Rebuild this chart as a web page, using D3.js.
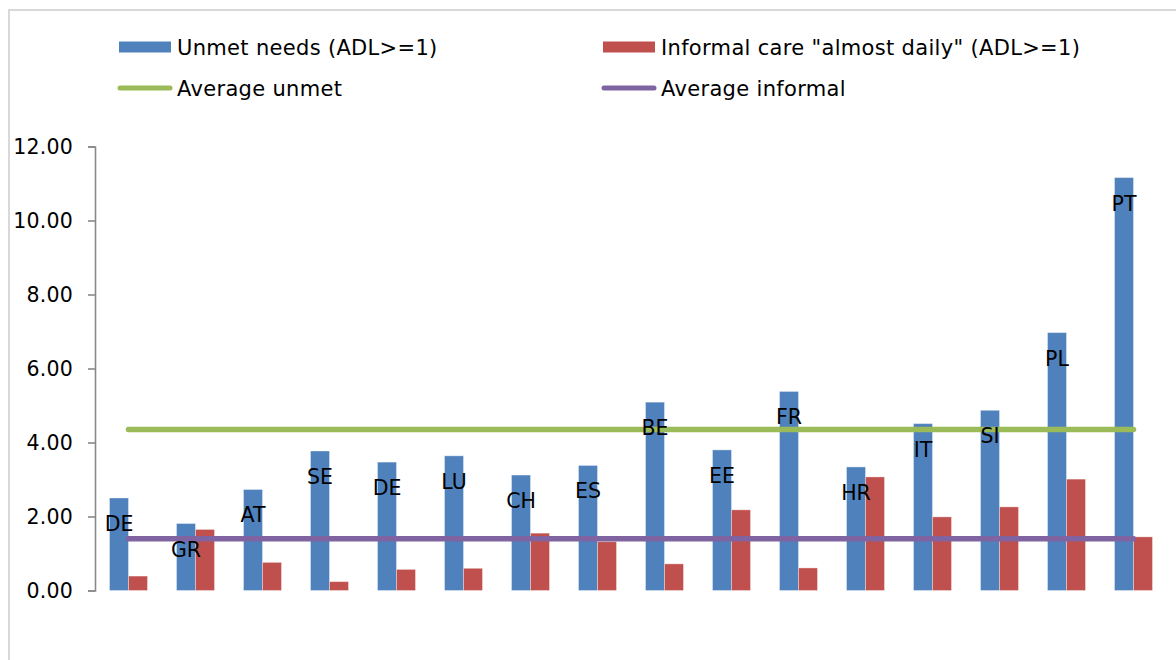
<!DOCTYPE html>
<html>
<head>
<meta charset="utf-8">
<script src="https://cdn.jsdelivr.net/npm/d3@7/dist/d3.min.js"></script>
<style>
  html, body { margin: 0; padding: 0; background: #fff; }
  svg { display: block; font-family: "DejaVu Sans", Verdana, sans-serif; }
</style>
</head>
<body>
<svg id="chart" width="1176" height="660"></svg>
<script>
// Countries (DE appears twice in the source series)
const countries = ["DE", "GR", "AT", "SE", "DE", "LU", "CH", "ES", "BE", "EE", "FR", "HR", "IT", "SI", "PL", "PT"];
// Unmet needs (ADL>=1)
const unmet = [2.50, 1.81, 2.73, 3.77, 3.47, 3.64, 3.12, 3.38, 5.09, 3.80, 5.38, 3.34, 4.51, 4.87, 6.97, 11.16];
// Informal care "almost daily" (ADL>=1)
const informal = [0.39, 1.65, 0.76, 0.24, 0.57, 0.60, 1.55, 1.32, 0.72, 2.18, 0.61, 3.07, 1.99, 2.26, 3.01, 1.45];
// Reference averages
const avgUnmet = 4.35;
const avgInformal = 1.40;
const yTicks = [0, 2, 4, 6, 8, 10, 12];

const seriesNames = ["Unmet needs (ADL>=1)", "Informal care \"almost daily\" (ADL>=1)"];
const lineNames = ["Average unmet", "Average informal"];
const colors = { unmet: "#4f81bd", informal: "#c0504d", avgUnmet: "#9bbb59", avgInformal: "#8064a2" };

const svg = d3.select("#chart");

// outer chart frame
svg.append("rect")
  .attr("x", 9).attr("y", 10)
  .attr("width", 1300).attr("height", 800)
  .attr("fill", "#fff")
  .attr("stroke", "#d9d9d9").attr("stroke-width", 2);

const plot = { left: 95, right: 1167, top: 146.5, bottom: 590.5 };

const idx = d3.range(countries.length);
const x = d3.scaleBand()
  .domain(idx)
  .range([plot.left, plot.right])
  .paddingInner(0.433)
  .paddingOuter(0.2165);

const xSub = d3.scaleBand()
  .domain(["unmet", "informal"])
  .range([0, x.bandwidth()]);

const y = d3.scaleLinear().domain([0, 12]).range([plot.bottom, plot.top]);

// y axis
const yAxis = d3.axisLeft(y)
  .tickValues(yTicks)
  .tickFormat(d3.format(".2f"))
  .tickSize(7)
  .tickPadding(15);

const gy = svg.append("g")
  .attr("transform", `translate(${plot.left},0)`)
  .call(yAxis);
gy.select(".domain").attr("stroke", "#898989").attr("stroke-width", 1.6);
gy.selectAll(".tick line").attr("stroke", "#898989").attr("stroke-width", 1.6);
gy.selectAll(".tick text")
  .attr("fill", "#000")
  .style("font-size", "20.5px")
  .style("letter-spacing", "0.2px")
  .style("font-family", "'DejaVu Sans', Verdana, sans-serif");

// grouped bars
const groups = svg.append("g").selectAll("g.grp")
  .data(idx)
  .join("g")
  .attr("class", "grp")
  .attr("transform", i => `translate(${x(i)},0)`);

groups.append("rect")
  .attr("x", xSub("unmet"))
  .attr("y", i => y(unmet[i]))
  .attr("width", xSub.bandwidth())
  .attr("height", i => y(0) - y(unmet[i]))
  .attr("fill", colors.unmet)
  .attr("stroke", "rgba(255,255,255,0.35)")
  .attr("stroke-width", 1);

groups.append("rect")
  .attr("x", xSub("informal"))
  .attr("y", i => y(informal[i]))
  .attr("width", xSub.bandwidth())
  .attr("height", i => y(0) - y(informal[i]))
  .attr("fill", colors.informal)
  .attr("stroke", "rgba(255,255,255,0.35)")
  .attr("stroke-width", 1);

// average lines across categories
const cx = i => x(i) + x.bandwidth() / 2;
const avgLine = v => d3.line().x(i => cx(i)).y(() => y(v))(idx);

svg.append("path")
  .attr("d", avgLine(avgUnmet))
  .attr("fill", "none")
  .attr("stroke", colors.avgUnmet)
  .attr("stroke-width", 5.5)
  .attr("stroke-linecap", "round");

svg.append("path")
  .attr("d", avgLine(avgInformal))
  .attr("fill", "none")
  .attr("stroke", colors.avgInformal)
  .attr("stroke-width", 5.5)
  .attr("stroke-linecap", "round");

// country labels, inside the top end of each unmet bar
svg.append("g").selectAll("text")
  .data(idx)
  .join("text")
  .attr("x", i => x(i) + xSub("unmet") + xSub.bandwidth() / 2)
  .attr("y", i => y(unmet[i]) + 33)
  .attr("text-anchor", "middle")
  .attr("fill", "#000")
  .style("font-size", "20.5px")
  .text(i => countries[i]);

// legend
const legend = svg.append("g").style("font-size", "21px").style("letter-spacing", "0.32px");
const legendItems = [
  { kind: "rect", color: colors.unmet, label: seriesNames[0], x: 119, y: 47 },
  { kind: "rect", color: colors.informal, label: seriesNames[1], x: 603, y: 47 },
  { kind: "line", color: colors.avgUnmet, label: lineNames[0], x: 119, y: 88 },
  { kind: "line", color: colors.avgInformal, label: lineNames[1], x: 603, y: 88 }
];
legendItems.forEach(it => {
  if (it.kind === "rect") {
    legend.append("rect")
      .attr("x", it.x).attr("y", it.y - 5.5)
      .attr("width", 52).attr("height", 11)
      .attr("fill", it.color);
  } else {
    legend.append("line")
      .attr("x1", it.x + 1).attr("x2", it.x + 51)
      .attr("y1", it.y).attr("y2", it.y)
      .attr("stroke", it.color)
      .attr("stroke-width", 5)
      .attr("stroke-linecap", "round");
  }
  legend.append("text")
    .attr("x", it.x + 58)
    .attr("y", it.y + 7.5)
    .attr("fill", "#000")
    .text(it.label);
});
</script>
</body>
</html>
